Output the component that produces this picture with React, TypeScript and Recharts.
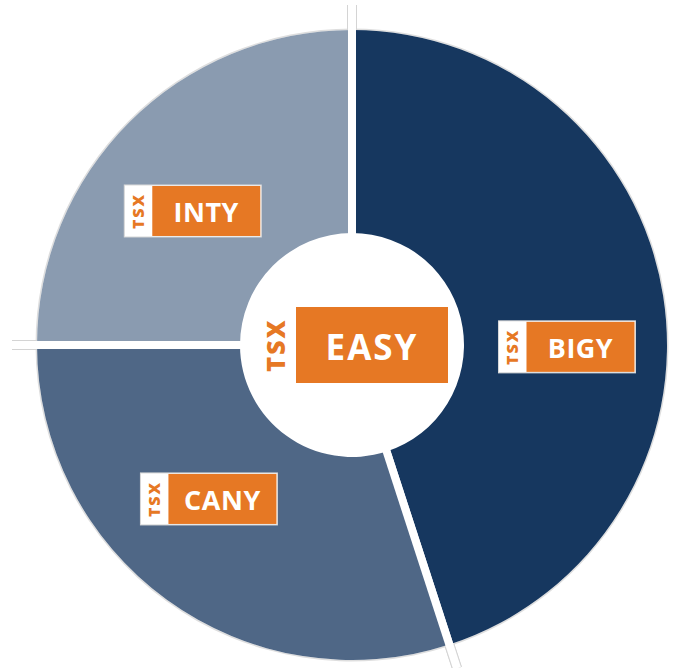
import { PieChart, Pie, Cell, Sector } from 'recharts'

const SEGMENTS = ['BIGY', 'CANY', 'INTY']
const SHARES = [45, 30, 25]
const CENTER_LABEL = 'EASY'
const TAG = 'TSX'

const COLORS = ['#16375f', '#4f6786', '#8a9bb0']
const ORANGE = '#e67824'
const FONT = '"Open Sans", Arial, sans-serif'

// small angle / radius tweaks so the tags sit where the original puts them
const LABEL_NUDGE = [-9.5, -7, 5]
const LABEL_PUSH = [3, -1, -3]

const CX = 352
const CY = 345
const INNER = 112
const OUTER = 315
const RADIAN = Math.PI / 180

const data = SEGMENTS.map((name, i) => ({ name, value: SHARES[i] }))

const polar = (cx: number, cy: number, r: number, a: number) => ({
  x: cx + r * Math.cos(-a * RADIAN),
  y: cy + r * Math.sin(-a * RADIAN),
})

const Divider = ({ cx, cy, angle, inner, outer }: any) => {
  const a = polar(cx, cy, inner - 2, angle)
  const b = polar(cx, cy, outer + 1, angle)
  const c = polar(cx, cy, outer, angle)
  const d = polar(cx, cy, outer + 25, angle)
  return (
    <g>
      <line x1={c.x} y1={c.y} x2={d.x} y2={d.y} stroke="#d4d4d4" strokeWidth={10} />
      <line x1={c.x} y1={c.y} x2={d.x} y2={d.y} stroke="#ffffff" strokeWidth={8} />
      <line x1={a.x} y1={a.y} x2={b.x} y2={b.y} stroke="#ffffff" strokeWidth={8} />
    </g>
  )
}

const renderSlice = (props: any) => {
  const { cx, cy, innerRadius, outerRadius, startAngle, endAngle, fill } = props
  return (
    <g>
      <Sector
        cx={cx}
        cy={cy}
        innerRadius={outerRadius}
        outerRadius={outerRadius + 1.5}
        startAngle={startAngle}
        endAngle={endAngle}
        fill="#dedede"
      />
      <Sector
        cx={cx}
        cy={cy}
        innerRadius={innerRadius}
        outerRadius={outerRadius}
        startAngle={startAngle}
        endAngle={endAngle}
        fill={fill}
      />
      <Divider cx={cx} cy={cy} angle={startAngle} inner={innerRadius} outer={outerRadius} />
      <Divider cx={cx} cy={cy} angle={endAngle} inner={innerRadius} outer={outerRadius} />
    </g>
  )
}

const Tag = ({ x, y, text }: { x: number; y: number; text: string }) => (
  <g>
    <rect x={x - 68} y={y - 26} width={137} height={52} fill="#ffffff" stroke="#d8d8d8" strokeWidth={1} />
    <rect x={x - 40} y={y - 25} width={108} height={50} fill={ORANGE} />
    <text
      x={x - 54}
      y={y}
      transform={`rotate(-90 ${x - 54} ${y})`}
      textAnchor="middle"
      dominantBaseline="central"
      fill={ORANGE}
      fontFamily={FONT}
      fontWeight={800}
      fontSize={16}
      letterSpacing={2}
    >
      {TAG}
    </text>
    <text
      x={x + 14}
      y={y + 1}
      textAnchor="middle"
      dominantBaseline="central"
      fill="#ffffff"
      fontFamily={FONT}
      fontWeight={700}
      fontSize={27}
      letterSpacing={0.5}
    >
      {text}
    </text>
  </g>
)

const CenterTag = ({ cx, cy }: { cx: number; cy: number }) => (
  <g>
    <rect x={cx - 56} y={cy - 38} width={152} height={76} fill={ORANGE} />
    <text
      x={cx - 77}
      y={cy}
      transform={`rotate(-90 ${cx - 77} ${cy})`}
      textAnchor="middle"
      dominantBaseline="central"
      fill={ORANGE}
      fontFamily={FONT}
      fontWeight={800}
      fontSize={25}
      letterSpacing={2}
    >
      {TAG}
    </text>
    <text
      x={cx + 20}
      y={cy + 1}
      textAnchor="middle"
      dominantBaseline="central"
      fill="#ffffff"
      fontFamily={FONT}
      fontWeight={700}
      fontSize={35}
      letterSpacing={2}
    >
      {CENTER_LABEL}
    </text>
  </g>
)

const renderLabel = (props: any) => {
  const { cx, cy, midAngle, innerRadius, outerRadius, index, name } = props
  const r = (innerRadius + outerRadius) / 2 - 2 + LABEL_PUSH[index]
  const p = polar(cx, cy, r, midAngle + LABEL_NUDGE[index])
  return (
    <g>
      <Tag x={p.x} y={p.y} text={name} />
      {index === 0 && <CenterTag cx={cx} cy={cy} />}
    </g>
  )
}

export default function App() {
  return (
    <div style={{ position: 'absolute', left: 0, top: 0, width: 675, height: 668, background: '#ffffff' }}>
      <PieChart width={675} height={668} margin={{ top: 0, right: 0, bottom: 0, left: 0 }}>
        <Pie
          data={data}
          dataKey="value"
          nameKey="name"
          cx={CX}
          cy={CY}
          innerRadius={INNER}
          outerRadius={OUTER}
          startAngle={90}
          endAngle={-270}
          stroke="none"
          shape={renderSlice}
          label={renderLabel}
          labelLine={false}
          isAnimationActive={false}
        >
          {data.map((d, i) => (
            <Cell key={d.name} fill={COLORS[i]} />
          ))}
        </Pie>
      </PieChart>
    </div>
  )
}
